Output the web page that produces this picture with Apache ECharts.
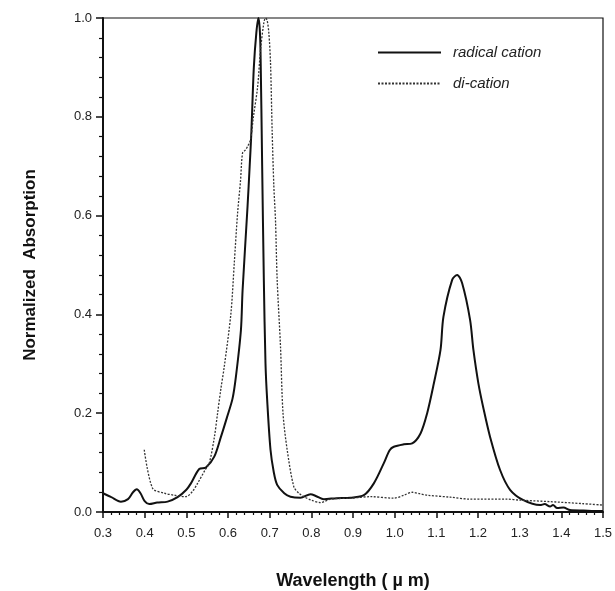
<!DOCTYPE html>
<html>
<head>
<meta charset="utf-8">
<script src="https://cdn.jsdelivr.net/npm/echarts@6/dist/echarts.min.js"></script>
<style>
  html, body { margin: 0; padding: 0; background: #fff; }
  #chart { width: 615px; height: 591px; }
</style>
</head>
<body>
<div id="chart"></div>
<script>
// wavelength (um) / normalized absorption
const radicalX = [0.30, 0.32, 0.343, 0.36, 0.372, 0.381, 0.39, 0.40, 0.411, 0.43, 0.455, 0.479, 0.50, 0.511,
  0.531, 0.547, 0.567, 0.583, 0.597, 0.611, 0.619, 0.631, 0.635, 0.647, 0.652, 0.656, 0.662, 0.668, 0.673,
  0.676, 0.678, 0.682, 0.686, 0.690, 0.694, 0.702, 0.710, 0.718, 0.735, 0.750, 0.774, 0.798, 0.812, 0.830,
  0.86, 0.894, 0.926, 0.950, 0.974, 0.988, 0.998, 1.022, 1.042, 1.062, 1.078, 1.094, 1.110, 1.117, 1.138,
  1.150, 1.162, 1.181, 1.189, 1.201, 1.213, 1.229, 1.253, 1.277, 1.309, 1.349, 1.36, 1.373, 1.38, 1.39,
  1.405, 1.421, 1.453, 1.493, 1.5];
const radicalY = [0.038, 0.030, 0.021, 0.026, 0.040, 0.046, 0.038, 0.022, 0.016, 0.019, 0.021, 0.030, 0.045, 0.058,
  0.087, 0.090, 0.112, 0.152, 0.190, 0.230, 0.274, 0.368, 0.449, 0.620, 0.700, 0.767, 0.900, 0.970, 1.000,
  0.980, 0.935, 0.700, 0.470, 0.300, 0.227, 0.126, 0.080, 0.055, 0.038, 0.031, 0.029, 0.036, 0.032, 0.026,
  0.028, 0.029, 0.034, 0.058, 0.099, 0.125, 0.132, 0.137, 0.139, 0.159, 0.200, 0.260, 0.328, 0.395, 0.470,
  0.480, 0.463, 0.389, 0.328, 0.260, 0.210, 0.152, 0.085, 0.045, 0.024, 0.014, 0.016, 0.011, 0.014, 0.008,
  0.009, 0.004, 0.003, 0.002, 0.002];

const dicationX = [0.399, 0.419, 0.447, 0.471, 0.499, 0.515, 0.527, 0.545, 0.555, 0.567, 0.575, 0.583, 0.591,
  0.607, 0.615, 0.623, 0.630, 0.635, 0.642, 0.647, 0.654, 0.661, 0.671, 0.678, 0.686, 0.690, 0.694, 0.698,
  0.702, 0.706, 0.710, 0.714, 0.718, 0.726, 0.732, 0.742, 0.758, 0.770, 0.782, 0.800, 0.822, 0.846, 0.894,
  0.942, 0.998, 1.022, 1.042, 1.060, 1.078, 1.134, 1.181, 1.269, 1.301, 1.373, 1.45, 1.5];
const dicationY = [0.126, 0.048, 0.038, 0.034, 0.031, 0.042, 0.058, 0.085, 0.099, 0.150, 0.200, 0.250, 0.294,
  0.402, 0.503, 0.605, 0.670, 0.727, 0.733, 0.740, 0.753, 0.800, 0.860, 0.935, 0.990, 1.000, 0.995, 0.970,
  0.910, 0.770, 0.660, 0.590, 0.470, 0.335, 0.200, 0.126, 0.051, 0.038, 0.031, 0.024, 0.019, 0.026, 0.028,
  0.031, 0.028, 0.034, 0.040, 0.037, 0.034, 0.030, 0.026, 0.026, 0.024, 0.021, 0.017, 0.014];

const zip = (xs, ys) => xs.map((x, i) => [x, ys[i]]);

const chart = echarts.init(document.getElementById("chart"));

const labelStyle = {
  color: "#222",
  fontSize: 13,
  fontFamily: "Liberation Sans",
  formatter: (v) => v.toFixed(1),
};

const option = {
  animation: false,
  backgroundColor: "#fff",
  grid: {
    left: 103,
    right: 12,
    top: 18,
    bottom: 79,
    outerBoundsMode: "none",
    show: true,
    borderColor: "#111",
    borderWidth: 1.2,
  },
  legend: {
    orient: "vertical",
    left: 372,
    top: 40,
    itemWidth: 63,
    itemHeight: 14,
    itemGap: 16,
    itemStyle: { opacity: 0 },
    textStyle: {
      fontFamily: "Liberation Sans",
      fontStyle: "italic",
      fontSize: 15,
      color: "#222",
      padding: [0, 0, 0, 7],
    },
    data: ["radical cation", "di-cation"],
  },
  xAxis: {
    type: "value",
    min: 0.3,
    max: 1.5,
    interval: 0.1,
    name: "Wavelength ( \u00b5 m)",
    nameLocation: "middle",
    nameGap: 60,
    nameTextStyle: {
      fontFamily: "Liberation Sans",
      fontWeight: "bold",
      fontSize: 18,
      color: "#111",
    },
    axisLine: { lineStyle: { color: "#111", width: 2 } },
    axisTick: { length: 6, lineStyle: { color: "#111", width: 1.5 } },
    minorTick: { show: true, splitNumber: 5, length: 3, lineStyle: { color: "#111", width: 1.2 } },
    splitLine: { show: false },
    axisLabel: { ...labelStyle, margin: 15 },
  },
  yAxis: {
    type: "value",
    min: 0,
    max: 1,
    interval: 0.2,
    name: "Normalized  Absorption",
    nameLocation: "middle",
    nameGap: 64,
    nameTextStyle: {
      fontFamily: "Liberation Sans",
      fontWeight: "bold",
      fontSize: 17,
      color: "#111",
    },
    axisLine: { lineStyle: { color: "#111", width: 2 } },
    axisTick: { length: 7, lineStyle: { color: "#111", width: 1.5 } },
    minorTick: { show: true, splitNumber: 5, length: 4, lineStyle: { color: "#111", width: 1.2 } },
    splitLine: { show: false },
    axisLabel: { ...labelStyle, margin: 11 },
  },
  series: [
    {
      name: "radical cation",
      type: "line",
      symbol: "none",
      smooth: 0.3,
      data: zip(radicalX, radicalY),
      lineStyle: { color: "#111", width: 2 },
      itemStyle: { color: "#111" },
    },
    {
      name: "di-cation",
      type: "line",
      symbol: "none",
      smooth: 0.3,
      data: zip(dicationX, dicationY),
      lineStyle: { color: "#333", width: 1.3, type: [2, 1.5] },
      itemStyle: { color: "#333" },
    },
  ],
};

chart.setOption(option);
</script>
</body>
</html>
